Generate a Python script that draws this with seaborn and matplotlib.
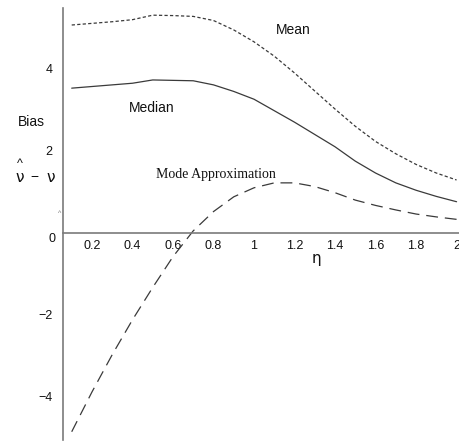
import numpy as np
import pandas as pd
import seaborn as sns
import matplotlib
matplotlib.use("Agg")
import matplotlib.pyplot as plt
from matplotlib.ticker import FixedLocator
from matplotlib.transforms import ScaledTranslation

# eta grid and bias curves of the three estimators
eta = [0.1, 0.2, 0.3, 0.4, 0.5, 0.6, 0.7, 0.8, 0.9, 1.0,
       1.1, 1.2, 1.3, 1.4, 1.5, 1.6, 1.7, 1.8, 1.9, 2.0]
bias_mean = [5.07, 5.11, 5.15, 5.20, 5.31, 5.30, 5.28, 5.18, 4.95, 4.66,
             4.31, 3.90, 3.46, 3.02, 2.60, 2.23, 1.93, 1.67, 1.46, 1.29]
bias_median = [3.53, 3.57, 3.61, 3.65, 3.73, 3.72, 3.71, 3.61, 3.45, 3.26,
               2.98, 2.70, 2.40, 2.10, 1.75, 1.46, 1.22, 1.04, 0.89, 0.76]
bias_mode = [-4.85, -3.88, -2.97, -2.12, -1.33, -0.58, 0.05, 0.52, 0.88, 1.10,
             1.22, 1.22, 1.13, 0.98, 0.80, 0.67, 0.56, 0.46, 0.39, 0.33]

x_ticks = [0.2, 0.4, 0.6, 0.8, 1.0, 1.2, 1.4, 1.6, 1.8, 2.0]
x_tick_labels = ["0.2", "0.4", "0.6", "0.8", "1", "1.2", "1.4", "1.6", "1.8", "2"]
y_ticks = [-4, -2, 0, 2, 4]
y_tick_labels = ["\u22124", "\u22122", "0", "2", "4"]

sns.set_style("white")
plt.rcParams["font.family"] = ["Liberation Sans", "DejaVu Sans"]

W, H = 459, 442
fig = plt.figure(figsize=(W / 100, H / 100), dpi=100)
ax = fig.add_axes([0, 0, 1, 1])
ax.set_facecolor("white")

line_color = "#3a3a3a"
df = pd.DataFrame({"eta": eta, "mean": bias_mean,
                   "median": bias_median, "mode": bias_mode})

sns.lineplot(data=df, x="eta", y="mean", ax=ax, color=line_color, lw=0.9,
             linestyle=(0, (2.6, 1.8)))
sns.lineplot(data=df, x="eta", y="median", ax=ax, color=line_color, lw=0.9)
sns.lineplot(data=df, x="eta", y="mode", ax=ax, color=line_color, lw=0.9,
             linestyle=(0, (9.5, 5.5)))

# axes crossing at the origin, Maple style
ax.set_xlim(-0.254, 2.012)
ax.set_ylim(-5.10, 5.68)
ax.set_xlabel("")
ax.set_ylabel("")
for s in ("top", "right"):
    ax.spines[s].set_visible(False)
axis_color = "#7a7a7a"
ax.spines["left"].set_position(("data", 0.059))
ax.spines["left"].set_bounds(-5.05, 5.49)
ax.spines["bottom"].set_position(("data", 0.0))
ax.spines["bottom"].set_bounds(0.059, 2.012)
for s in ("left", "bottom"):
    ax.spines[s].set_color(axis_color)
    ax.spines[s].set_linewidth(1.2)

ax.xaxis.set_major_locator(FixedLocator(x_ticks))
ax.set_xticklabels(x_tick_labels)
ax.xaxis.set_minor_locator(FixedLocator(np.round(np.arange(0.08, 2.01, 0.04), 2)))
ax.yaxis.set_major_locator(FixedLocator(y_ticks))
ax.set_yticklabels(y_tick_labels)
ax.yaxis.set_minor_locator(FixedLocator(np.round(np.arange(-4.8, 5.3, 0.4), 1)))

ax.tick_params(axis="x", which="major", direction="in", length=3, width=0.8,
               color=axis_color, pad=5, labelsize=9, labelcolor="#111111")
ax.tick_params(axis="x", which="minor", direction="in", length=2, width=0.6,
               color=axis_color)
ax.tick_params(axis="y", which="major", direction="out", length=3, width=0.8,
               color=axis_color, pad=5, labelsize=9, labelcolor="#111111")
ax.tick_params(axis="y", which="minor", direction="out", length=2, width=0.6,
               color=axis_color)

# the zero label sits a little below the horizontal axis
for lab in ax.get_yticklabels():
    if lab.get_text() == "0":
        lab.set_transform(lab.get_transform() +
                          ScaledTranslation(0.03, -5 / 100, fig.dpi_scale_trans))


def px(x, y):
    return x / W, 1 - y / H


txt = dict(color="#111111", ha="center", va="center")
fig.text(*px(293, 30), "Mean", fontsize=10, **txt)
fig.text(*px(152, 108), "Median", fontsize=10, **txt)
fig.text(*px(216, 175), "Mode Approximation", fontsize=10,
         family=["Liberation Serif", "DejaVu Serif"], **txt)
fig.text(*px(316, 258), "\u03b7", fontsize=11,
         family=["DejaVu Sans"], **txt)
fig.text(*px(31, 122), "Bias", fontsize=10, **txt)
fig.text(*px(20, 178), "\u03bd", fontsize=11, family=["DejaVu Sans"], **txt)
fig.text(*px(20, 164), "^", fontsize=9, **txt)
fig.text(*px(34, 177), "\u2212", fontsize=10, **txt)
fig.text(*px(51, 178), "\u03bd", fontsize=11, family=["DejaVu Sans"], **txt)
fig.text(*px(60, 213), "^", fontsize=5, color="#777777", ha="center", va="center")

fig.savefig("out.png", dpi=100, facecolor="white")
